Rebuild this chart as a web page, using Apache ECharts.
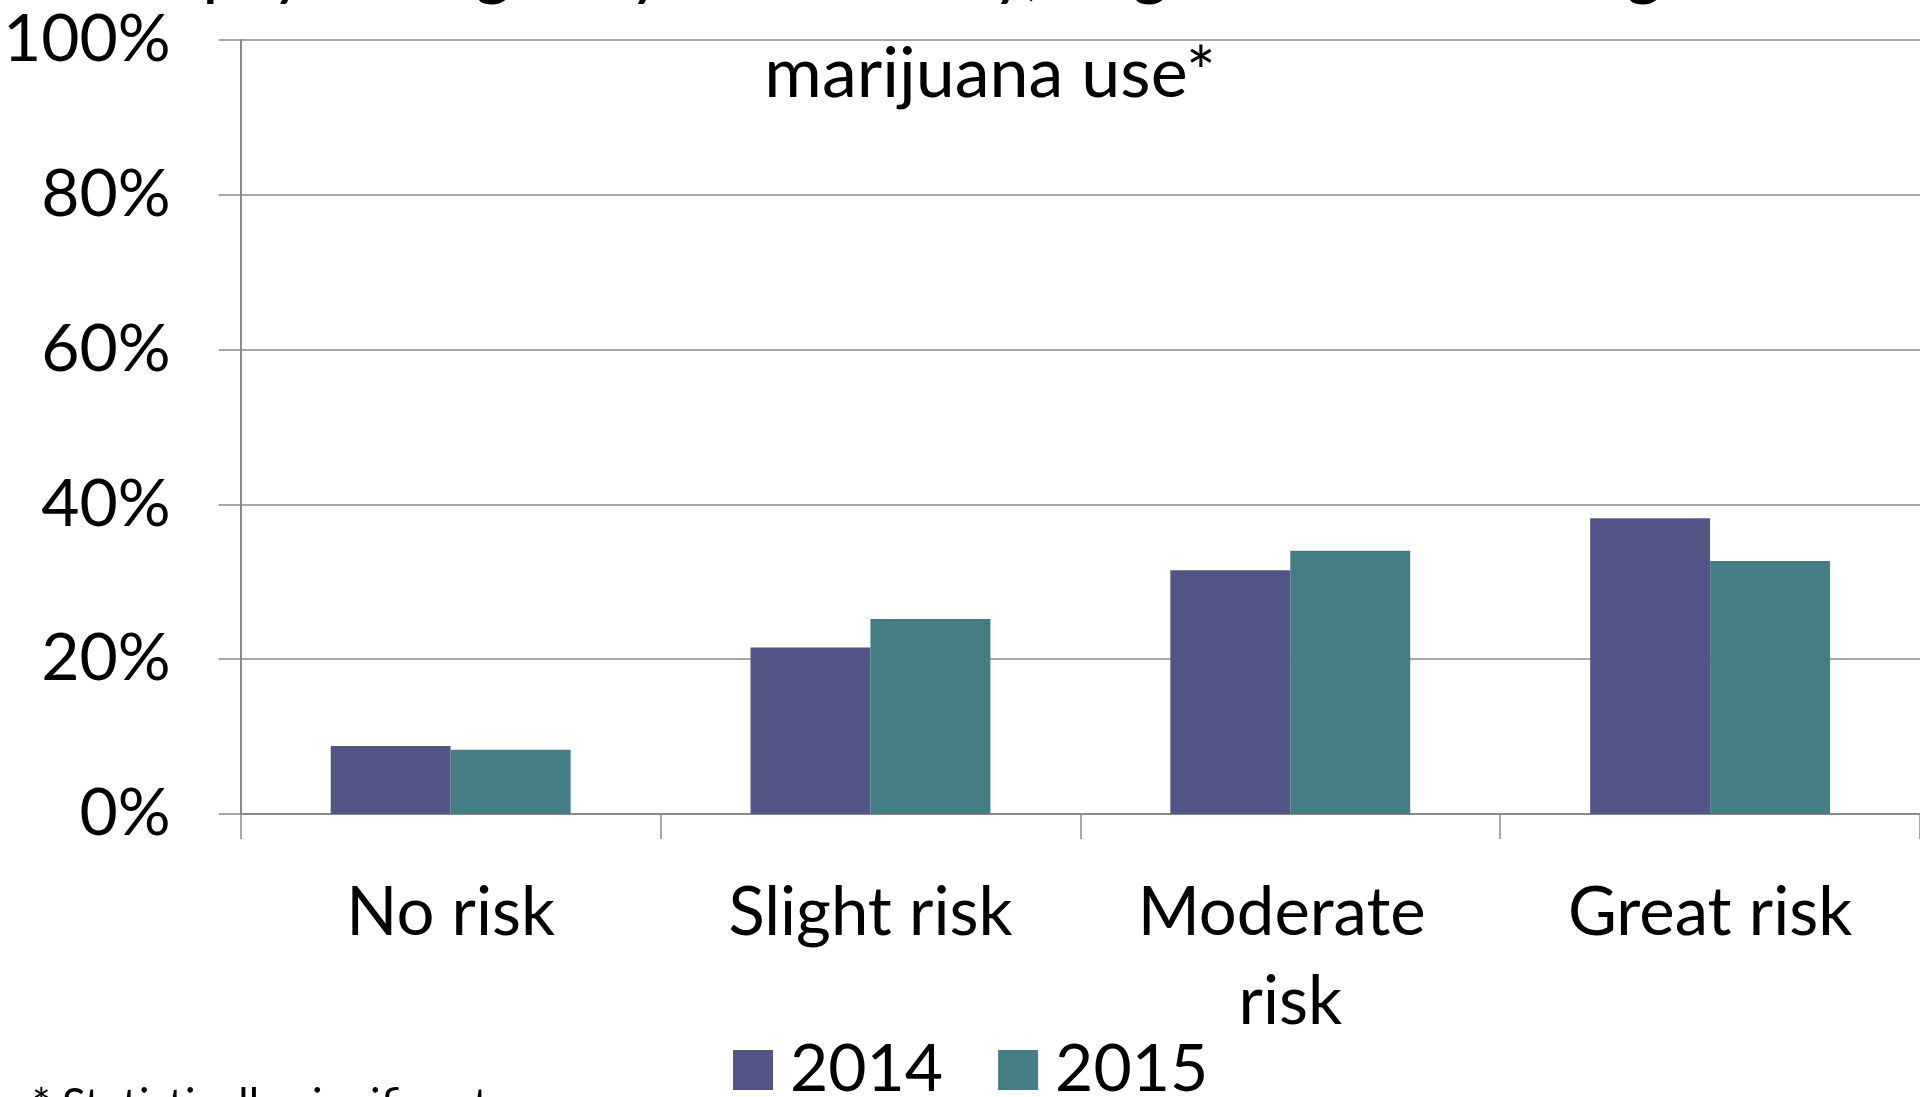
<!DOCTYPE html>
<html>
<head>
<meta charset="utf-8">
<title>Perceived harm from regular marijuana use</title>
<script src="https://cdn.jsdelivr.net/npm/echarts@6/dist/echarts.min.js"></script>
<style>
  html, body { margin: 0; padding: 0; background: #ffffff; }
  #chart { width: 1920px; height: 1097px; }
</style>
</head>
<body>
<div id="chart"></div>
<script>
// Risk categories on the x axis
const categories = ['No risk', 'Slight risk', 'Moderate risk', 'Great risk'];
// Share of respondents (%) per survey year
const values2014 = [8.8, 21.5, 31.5, 38.2];
const values2015 = [8.3, 25.2, 34.0, 32.7];
// Y axis range and step (percent)
const yMin = 0;
const yMax = 100;
const yStep = 20;

const FONT = 'Lato, "Open Sans", sans-serif';
const GRID_GRAY = '#8a8a8a';

const chart = echarts.init(document.getElementById('chart'), null, { renderer: 'canvas' });

chart.setOption({
  backgroundColor: '#ffffff',
  animation: false,
  title: {
    text: 'psychologically or mentally, cognitive risk of regular\nmarijuana use*',
    left: 985,
    top: -88,
    textAlign: 'center',
    textStyle: {
      fontFamily: FONT,
      fontSize: 70,
      fontWeight: 'normal',
      color: '#000000',
      lineHeight: 105
    }
  },
  legend: {
    data: ['2014', '2015'],
    left: 728,
    top: 1032,
    itemWidth: 40,
    itemHeight: 40,
    itemGap: 55,
    icon: 'rect',
    textStyle: {
      fontFamily: FONT,
      fontSize: 66,
      color: '#000000',
      lineHeight: 66,
      padding: [0, 0, 0, 12]
    }
  },
  grid: {
    left: 238,
    right: 0,
    top: 40,
    bottom: 283,
    containLabel: false
  },
  xAxis: {
    type: 'category',
    data: categories,
    axisLine: { show: true, lineStyle: { color: GRID_GRAY, width: 2 } },
    axisTick: { show: true, length: 25, lineStyle: { color: GRID_GRAY, width: 1.5 } },
    axisLabel: {
      fontFamily: FONT,
      fontSize: 67,
      color: '#000000',
      lineHeight: 89,
      margin: 55,
      width: 340,
      overflow: 'break',
      interval: 0
    }
  },
  yAxis: {
    type: 'value',
    min: yMin,
    max: yMax,
    interval: yStep,
    axisLine: { show: true, lineStyle: { color: GRID_GRAY, width: 2 } },
    axisTick: { show: true, length: 22, lineStyle: { color: GRID_GRAY, width: 1.5 } },
    splitLine: { show: true, lineStyle: { color: GRID_GRAY, width: 1.5 } },
    axisLabel: {
      fontFamily: FONT,
      fontSize: 66,
      color: '#000000',
      margin: 70,
      formatter: '{value}%'
    }
  },
  series: [
    {
      name: '2014',
      type: 'bar',
      data: values2014,
      barGap: '0%',
      barCategoryGap: '42.86%',
      itemStyle: { color: '#545587' }
    },
    {
      name: '2015',
      type: 'bar',
      data: values2015,
      barGap: '0%',
      barCategoryGap: '42.86%',
      itemStyle: { color: '#447e84' }
    }
  ],
  graphic: [
    {
      type: 'text',
      left: 32,
      top: 1084,
      style: {
        text: '* Statistically significant',
        fontFamily: FONT,
        fontSize: 44,
        fill: '#000000'
      }
    }
  ]
});
</script>
</body>
</html>
